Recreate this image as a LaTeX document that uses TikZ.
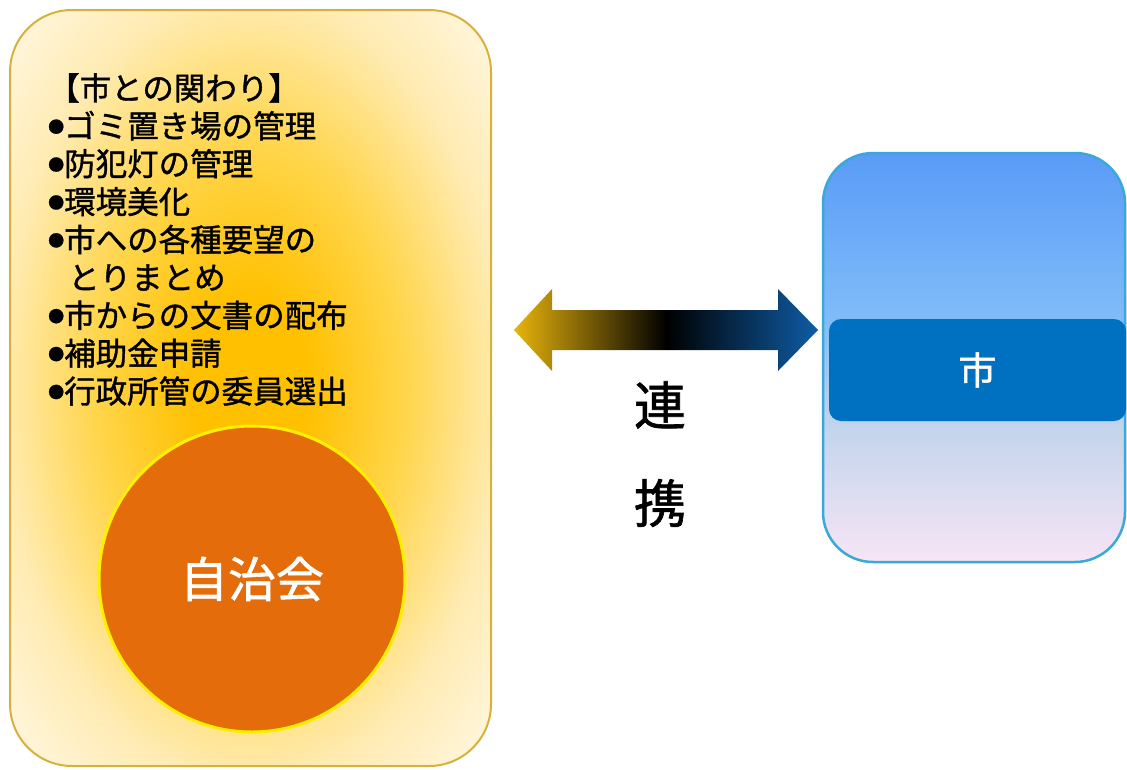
\documentclass[tikz,border=0pt]{standalone}
\usepackage{fontspec}
\setmainfont{Noto Sans CJK JP}
\newfontfamily\jpmed[FakeBold=1.2]{Noto Sans CJK JP}
\usetikzlibrary{positioning}

\definecolor{gol}{RGB}{255, 192, 0}
\definecolor{golf}{RGB}{255, 213, 74}
\definecolor{golt}{RGB}{255, 235, 178}
\definecolor{golp}{RGB}{255, 248, 230}
\definecolor{golb}{RGB}{214, 178, 58}
\definecolor{ora}{RGB}{228, 108, 10}
\definecolor{yel}{RGB}{255, 240, 0}
\definecolor{bluo}{RGB}{90, 155, 247}
\definecolor{blut}{RGB}{128, 188, 248}
\definecolor{mis}{RGB}{194, 212, 236}
\definecolor{pin}{RGB}{246, 229, 245}
\definecolor{cya}{RGB}{58, 168, 216}
\definecolor{sea}{RGB}{0, 112, 192}
\definecolor{arg}{RGB}{232, 180, 12}
\definecolor{arb}{RGB}{14, 92, 166}

\pgfdeclareradialshading{glow}{\pgfpoint{0bp}{0bp}}{color(0bp)=(gol); color(6bp)=(gol); color(16bp)=(golf); color(26bp)=(golt); color(36bp)=(golp); color(50bp)=(golp)}
\pgfdeclareverticalshading{sky}{100bp}{color(0bp)=(pin); color(25bp)=(pin); color(41.7bp)=(mis); color(54.6bp)=(blut); color(75bp)=(bluo); color(100bp)=(bluo)}

\newcommand{\dotb}{\raisebox{5pt}{\fontsize{16}{16}\selectfont ●}}

\begin{document}
\begin{tikzpicture}[x=1pt, y=-1pt]
  \useasboundingbox (0, 0) rectangle (1127, 769);
  \coordinate (J) at (250.5, 388);
  \coordinate (C) at (252, 579);
  \coordinate (S) at (974, 357.5);
  \coordinate (L) at (514, 330);
  \coordinate (R) at (818, 330);

  \node[draw=golb, line width=2, rounded corners=62, shade, shading=glow,
    minimum width=481, minimum height=756, inner sep=0] (jichi) at (J) {};
  \node[anchor=north west, align=left, inner sep=0,
    font=\jpmed\fontsize{31.5}{37.9}\selectfont] (kakawari) at (48, 73)
    {【市との関わり】\\
     \dotb ゴミ置き場の管理\\
     \dotb 防犯灯の管理\\
     \dotb 環境美化\\
     \dotb 市への各種要望の\\
     \hspace*{20pt}とりまとめ\\
     \dotb 市からの文書の配布\\
     \dotb 補助金申請\\
     \dotb 行政所管の委員選出};
  \node[circle, fill=ora, draw=yel, line width=3, minimum size=306, inner sep=0,
    text=white, font=\jpmed\fontsize{48}{48}\selectfont] (kai) at (C) {自治会};

  \node[draw=cya, line width=2.5, rounded corners=50, shade, shading=sky,
    minimum width=302, minimum height=409, inner sep=0] (shi) at (S) {};
  \node[fill=sea, rounded corners=12, minimum width=297, minimum height=102, inner sep=0,
    text=white, font=\jpmed\fontsize{38}{38}\selectfont] (shiband) at (977.5, 370) {市};

  \shade[left color=arg, right color=arb, middle color=black]
    (L) -- ++(38, -41) -- ++(0, 21) -- ++(226, 0) -- ++(0, -21) -- (R)
    -- ++(-40, 41) -- ++(0, -21) -- ++(-226, 0) -- ++(0, 21) -- cycle;

  \node[font=\jpmed\fontsize{52}{52}\selectfont, inner sep=0] (ren) at (660, 405) {連};
  \node[font=\jpmed\fontsize{52}{52}\selectfont, inner sep=0] (kei) at (660, 503) {携};
\end{tikzpicture}
\end{document}
